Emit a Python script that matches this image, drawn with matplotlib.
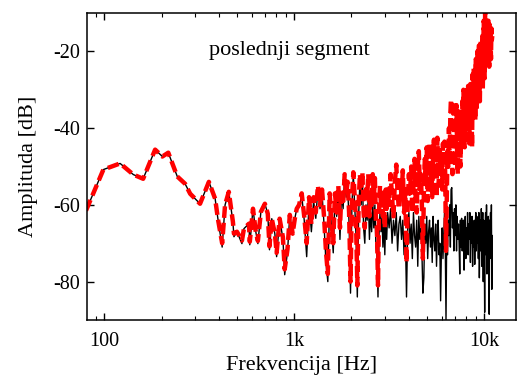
import numpy as np
import matplotlib
matplotlib.use("Agg")
import matplotlib.pyplot as plt
from matplotlib.ticker import FixedLocator, FixedFormatter, LogLocator, NullFormatter

# low frequency part (both curves lie on top of each other)
freq_lo = [80, 98.8, 121, 142, 160, 185, 202, 217, 242, 266, 283, 319, 355, 383, 396,
           417, 432, 452, 475, 481, 499, 530, 543, 577, 583, 606, 627, 643, 667, 700,
           725, 740, 761, 790, 807, 837, 871, 890, 921, 947, 980, 1006, 1030]
black_lo = [-61.5, -50.8, -49.2, -52.1, -53.2, -45.6, -47.4, -46.4, -52.6, -54.5, -57.1,
            -59.7, -54.0, -58.4, -63.6, -71.0, -60.0, -56.6, -64.4, -68.3, -67.0, -70.1,
            -66.2, -64.9, -70.4, -61.0, -67.0, -70.1, -61.8, -59.7, -62.3, -71.7, -63.6,
            -67.5, -73.5, -63.6, -68.8, -78.2, -72.2, -62.6, -67.8, -63.6, -61.0]
red_lo = [-61.5, -50.8, -49.2, -52.1, -53.2, -45.6, -47.4, -46.4, -52.6, -54.5, -57.1,
          -59.7, -54.0, -58.4, -63.6, -70.0, -60.0, -56.6, -64.4, -67.5, -67.0, -69.3,
          -66.2, -64.9, -69.6, -61.0, -67.0, -69.4, -61.8, -59.7, -62.3, -70.8, -63.6,
          -67.5, -72.5, -63.6, -68.4, -76.8, -71.5, -62.6, -67.5, -63.6, -61.0]

# 1.06k - 3.06k
black_mid = [-60.5, -57.5, -64, -73.5, -59, -67, -59, -63.5, -55.5, -61,
             -57, -65, -75, -80, -58, -66, -72.5, -58, -63, -56,
             -69, -57, -61, -52.5, -58, -55, -65, -83, -60, -52,
             -60, -68, -84, -63, -54, -60, -53, -66, -70, -60,
             -64, -58, -69, -62, -67, -59, -66, -60, -71, -73,
             -84, -68, -62, -67, -63, -71, -64, -73, -63, -69]
red_mid = [-60, -57, -63, -70, -58, -65, -58, -62, -55, -60,
           -56, -63, -72, -78, -57, -64, -70, -57, -62, -55,
           -66, -56, -60, -52, -57, -54, -62, -80, -59, -51.5,
           -58, -64, -81, -60, -52, -56, -51.5, -62, -66, -55,
           -58, -52, -63, -57, -60, -52, -58, -53, -64, -66,
           -81, -62, -55, -60, -56, -63, -57, -66, -56, -61]

# 3.1k - 11k
black_hi = [-62, -66, -61, -70, -64, -68, -62, -72, -65, -63,
            -69, -64, -73, -67, -84, -66, -62, -70, -65, -74,
            -62, -68, -71, -64, -76, -63, -69, -66, -72, -83,
            -79, -65, -70, -63, -74, -67, -64, -71, -66, -75,
            -63, -69, -72, -65, -76, -68, -64, -73, -70, -85,
            -72, -66, -74, -68, -62, -70, -90, -67, -73, -64,
            -68, -60, -71, -56, -55.5, -66, -62, -72, -61, -68,
            -60, -72, -63, -69, -65, -70, -78, -64, -71, -63.5,
            -72, -66, -64, -77, -68, -63, -74, -66, -70, -62,
            -73, -65, -69, -62, -75, -64, -70, -63, -76, -66,
            -71, -64, -75.5, -66, -62, -72, -63, -70, -66, -74,
            -62, -79, -68, -64, -72, -61, -76, -66, -62, -80,
            -64, -70, -88, -66, -62, -73, -60, -78, -65, -70,
            -63, -76, -88.5, -64, -70, -62, -74, -60, -82, -68]
red_hi = [-56, -60, -52, -58, -63, -54, -49.5, -57, -61, -53,
          -58, -51, -62, -56, -75, -60, -52, -57, -50, -62,
          -55, -48, -58, -62, -50, -46, -56, -52, -60, -74,
          -57, -48, -54, -45, -59, -51, -44, -55, -49, -58,
          -47, -43, -53, -49, -58, -42.5, -50, -55, -45, -52,
          -47, -56, -44, -50, -43.5, -53, -72, -58, -46, -50,
          -40, -48, -36, -32.5, -45, -52, -38, -33, -46, -50,
          -40, -34, -48, -52, -37, -44, -35, -50, -39, -45,
          -33, -42, -30, -38, -45, -32, -36, -43, -30, -40,
          -29, -37, -44, -31, -28.5, -40, -34, -45, -26, -33,
          -24.5, -36, -30, -38, -22, -28, -35, -20, -31, -26,
          -18.5, -27, -33, -22, -17, -29, -24, -16, -30, -21,
          -12, -20, -27, -10, -17, -24, -12, -22, -14, -19,
          -12, -18, -24, -13, -20, -15, -22, -14, -17, -16]

freq = np.concatenate([freq_lo,
                       np.linspace(1060, 3064, len(black_mid)),
                       np.linspace(3100, 11023, len(black_hi))])
black = np.concatenate([black_lo, black_mid, black_hi])
red = np.concatenate([red_lo, red_mid, red_hi])

plt.rcParams['font.family'] = ['Liberation Serif', 'DejaVu Serif']

fig = plt.figure(figsize=(5.17, 3.78), dpi=100)
ax = fig.add_axes([87 / 517, 1 - 320 / 378, 429 / 517, 307 / 378])

ax.plot(freq, black, color="black", lw=1.0)
ax.plot(freq, red, color="red", lw=3.2, linestyle=(0, (2.6, 1.1)), dash_capstyle="butt")

ax.set_xscale("log")
ax.set_xlim(81, 14700)
ax.set_ylim(-90, -10)

ax.xaxis.set_major_locator(FixedLocator([100, 1000, 10000]))
ax.xaxis.set_major_formatter(FixedFormatter(["100", "1k", "10k"]))
ax.xaxis.set_minor_locator(LogLocator(base=10, subs=np.arange(2, 10)))
ax.xaxis.set_minor_formatter(NullFormatter())
ax.set_yticks([-80, -60, -40, -20])
ax.set_yticklabels(["-80", "-60", "-40", "-20"])

ax.tick_params(which="both", direction="in", top=True, right=True, labelsize=14.5)
ax.tick_params(which="major", length=5, width=1)
ax.tick_params(which="minor", length=3, width=0.8)
ax.tick_params(axis="x", pad=9)
ax.tick_params(axis="y", pad=5)
for s in ax.spines.values():
    s.set_linewidth(1.1)

ax.set_xlabel("Frekvencija [Hz]", fontsize=16, labelpad=3)
ax.set_ylabel("Amplituda [dB]", fontsize=16, labelpad=11)
ax.text(0.472, 0.879, "poslednji segment", transform=ax.transAxes,
        ha="center", va="center", fontsize=16)

fig.savefig("out.png", dpi=100)
